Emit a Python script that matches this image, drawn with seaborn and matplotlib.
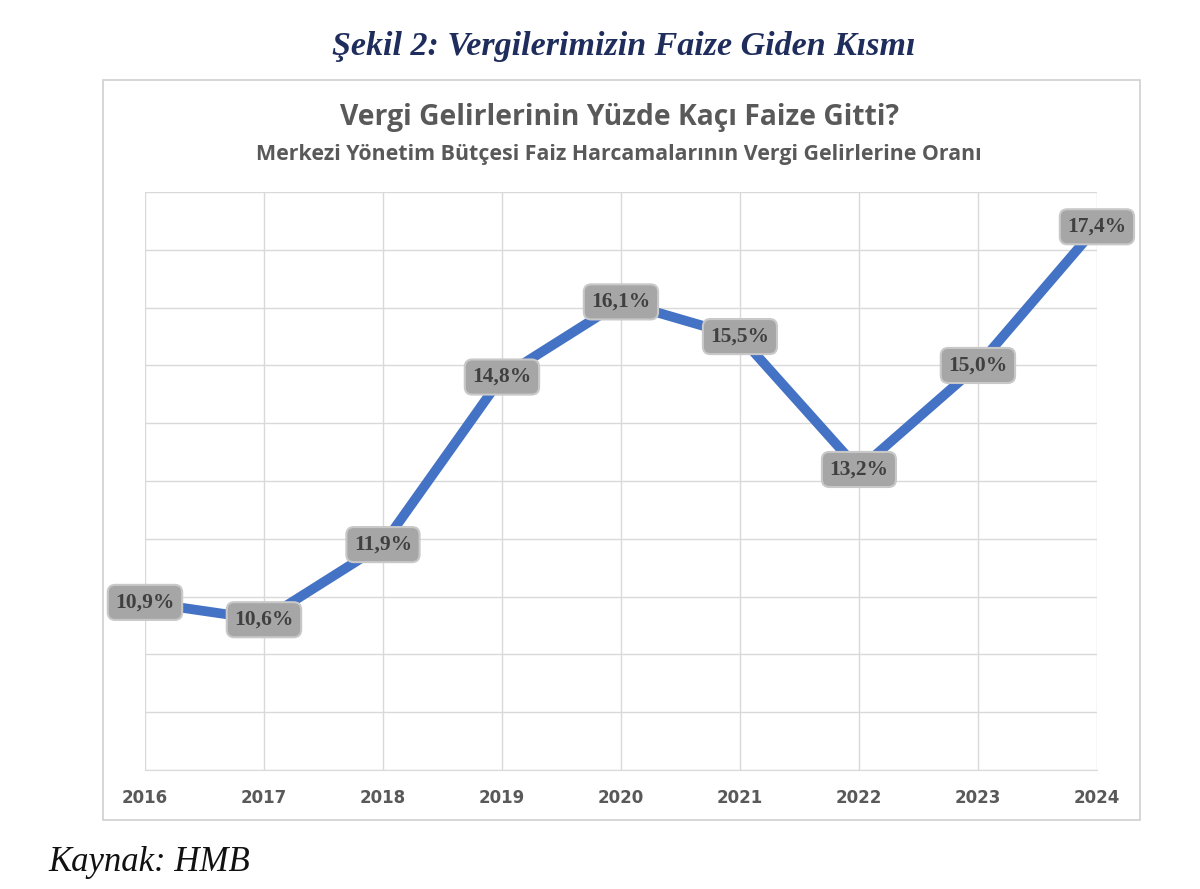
import matplotlib
matplotlib.use("Agg")
import matplotlib.pyplot as plt
import seaborn as sns
import pandas as pd
from matplotlib.patches import Rectangle

years = [2016, 2017, 2018, 2019, 2020, 2021, 2022, 2023, 2024]
values = [10.9, 10.6, 11.9, 14.8, 16.1, 15.5, 13.2, 15.0, 17.4]
labels = ["10,9%", "10,6%", "11,9%", "14,8%", "16,1%", "15,5%", "13,2%", "15,0%", "17,4%"]

df = pd.DataFrame({"Yıl": years, "Oran": values})

fig = plt.figure(figsize=(12, 8.89), dpi=100)
fig.patches.append(Rectangle((0.0858, 0.0776), 0.8642, 0.8324, transform=fig.transFigure,
                             fill=False, edgecolor="#d0d0d0", linewidth=1.2))
ax = fig.add_axes([0.1208, 0.1339, 0.7933, 0.650])
sns.lineplot(data=df, x="Yıl", y="Oran", ax=ax, color="#4472C4", linewidth=7, solid_capstyle="round")
ax.set_xlim(2016, 2024)
ax.set_ylim(8, 18)
ax.set_xticks(years)
ax.set_xticklabels([str(y) for y in years], fontsize=12, fontweight="bold", color="#595959")
ax.set_yticks(range(8, 19))
ax.set_yticklabels([])
ax.tick_params(length=0, pad=14, axis="x")
ax.tick_params(length=0, axis="y")
ax.grid(True, color="#d9d9d9", linewidth=1)
for s in ax.spines.values():
    s.set_visible(False)
ax.spines["bottom"].set_visible(True)
ax.spines["bottom"].set_color("#d9d9d9")
ax.set_xlabel("")
ax.set_ylabel("")

for x, v, l in zip(years, values, labels):
    ax.annotate(l, (x, v), ha="center", va="center", fontsize=15.5, fontweight="bold",
                family="Liberation Serif", color="#404040", clip_on=False, zorder=5,
                bbox=dict(boxstyle="round,pad=0.35", facecolor="#a6a6a6", edgecolor="#c8c8c8", linewidth=1.5))

fig.text(0.52, 0.948, "Şekil 2: Vergilerimizin Faize Giden Kısmı", ha="center", va="center",
         fontsize=24.5, fontweight="bold", style="italic", family="Liberation Serif", color="#1f2d5c")
fig.text(0.516, 0.868, "Vergi Gelirlerinin Yüzde Kaçı Faize Gitti?", ha="center", va="center",
         fontsize=20.3, fontweight="bold", color="#595959", family="Open Sans")
fig.text(0.516, 0.826, "Merkezi Yönetim Bütçesi Faiz Harcamalarının Vergi Gelirlerine Oranı", ha="center",
         va="center", fontsize=15.4, fontweight="bold", color="#595959", family="Open Sans")
fig.text(0.04, 0.03, "Kaynak: HMB", ha="left", va="center", fontsize=25, style="italic",
         family="Liberation Serif", color="#111111")

fig.savefig("out.png", dpi=100, facecolor="white")
